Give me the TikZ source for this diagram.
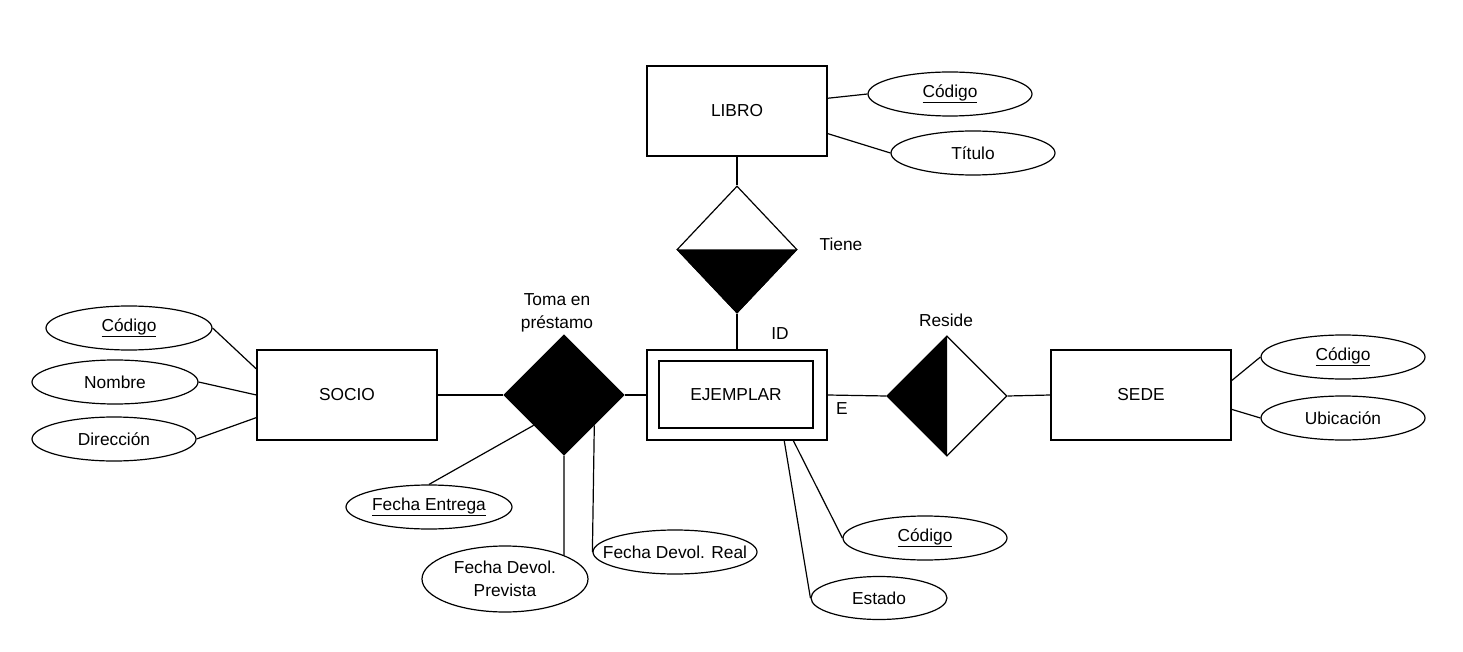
\documentclass[tikz,border=0pt]{standalone}
\usepackage{fontspec}
\setmainfont{Liberation Sans}
\usetikzlibrary{shapes.geometric}
\begin{document}
\begin{tikzpicture}[
		x=0.75pt,y=-0.75pt,
		font=\fontsize{13}{17.5}\selectfont,
		line width=0.9pt,
		link/.style = {},
		entity/.style = {rectangle, draw, minimum width=135pt, minimum height=67.5pt, inner sep=0pt},
		attr/.style = {ellipse, draw, minimum width=123pt, minimum height=33pt, inner sep=0pt},
		rel/.style = {diamond, draw, minimum width=90pt, minimum height=90pt, inner sep=0pt}
	]
	\useasboundingbox (0,0) rectangle (1463,652);
	\node (libro) [entity] at (737,111) {LIBRO};
	\node (socio) [entity] at (347,395) {SOCIO};
	\node (sede) [entity] at (1141,395) {SEDE};
	\node (ejemplar) [entity] at (737,395) {};
	\node (ejemplarIn) [entity, minimum width=115.5pt, minimum height=50.25pt] at (736,394.5) {EJEMPLAR};
	\node (relTiene) [rel, minimum height=95.25pt] at (737,249.5) {};
	\node (relToma) [rel, fill=black] at (564,395) {};
	\node (relReside) [rel] at (947,396) {};
	\fill (relTiene.west) -- (relTiene.east) -- (relTiene.south) -- cycle;
	\fill (relReside.north) -- (relReside.west) -- (relReside.south) -- cycle;
	\node (lblTiene) at (841,244) {Tiene};
	\node (lblToma) [align=center] at (557,313) {Toma en\\préstamo};
	\node (lblReside) at (946,320) {Reside};
	\node (lblId) at (780,334) {ID};
	\node (lblE) at (842,409) {E};
	\node (libroCodigo) [attr] at (950,94) {\underline{Código}};
	\node (libroTitulo) [attr] at (973,153) {Título};
	\node (socioCodigo) [attr, minimum width=124.5pt] at (129,328) {\underline{Código}};
	\node (socioNombre) [attr, minimum width=124.5pt] at (115,382) {Nombre};
	\node (socioDireccion) [attr] at (114,439) {Dirección};
	\node (fechaEntrega) [attr, minimum width=124.5pt] at (429,507) {\underline{Fecha Entrega}};
	\node (fechaPrevista) [attr, minimum width=124.5pt, minimum height=49.5pt, align=center] at (505,579) {Fecha Devol.\\Prevista};
	\node (fechaReal) [attr, inner xsep=-11pt] at (675,552) {Fecha Devol. Real};
	\node (ejemplarCodigo) [attr] at (925,538) {\underline{Código}};
	\node (ejemplarEstado) [attr, minimum width=102pt, minimum height=32.25pt] at (879,598) {Estado};
	\node (sedeCodigo) [attr] at (1343,357) {\underline{Código}};
	\node (sedeUbicacion) [attr] at (1343,418) {Ubicación};

	\path [link] (libroCodigo.west) edge (libro.8);
	\path [link] (libroTitulo.west) edge (libro.346);
	\path [link] (libro.south) edge (relTiene.north);
	\path [link] (relTiene.south) edge (ejemplar.north);
	\path [link] (socioCodigo.east) edge (socio.164);
	\path [link] (socioNombre.east) edge (socio.west);
	\path [link] (socioDireccion.east) edge (socio.194);
	\path [link] (socio.east) edge (relToma.west);
	\path [link] (relToma.east) edge (ejemplar.west);
	\path [link] (fechaEntrega.north) edge (relToma.south west);
	\path [link] (fechaPrevista.22) edge (relToma.south);
	\path [link] (fechaReal.west) edge (relToma.south east);
	\path [link] (ejemplar.321) edge (ejemplarCodigo.west);
	\path [link] (ejemplar.316) edge (ejemplarEstado.west);
	\path [link] (ejemplar.east) edge (relReside.west);
	\path [link] (relReside.east) edge (sede.west);
	\path [link] (sede.9) edge (sedeCodigo.west);
	\path [link] (sede.351) edge (sedeUbicacion.west);
\end{tikzpicture}
\end{document}
